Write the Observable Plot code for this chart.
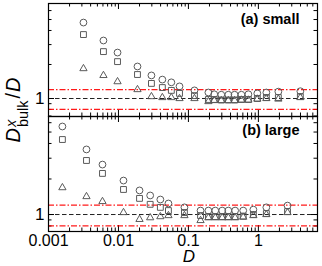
<!DOCTYPE html>
<html><head><meta charset="utf-8">
<script src="https://cdn.jsdelivr.net/npm/d3@7"></script>
<script src="https://cdn.jsdelivr.net/npm/@observablehq/plot@0.6"></script>
<style>
body{margin:0;background:#fff;}
#wrap{position:relative;width:322px;height:266px;font-family:"Liberation Sans",Arial,sans-serif;overflow:hidden;background:#fff;}
#wrap svg{display:block;overflow:visible;}
#ylab{position:absolute;left:-47px;top:97px;width:120px;height:26px;line-height:26px;text-align:center;transform:rotate(-90deg);font-size:20px;white-space:nowrap;color:#000;}
#ylab .stack{display:inline-block;vertical-align:-8px;line-height:12px;font-size:14.5px;text-align:left;margin-left:1px;margin-right:1px;}
#ylab .sl{margin:0 1px;}
</style></head><body><div id="wrap"><div id="ylab"><i>D</i><span class="stack"><i>x</i><br>bulk</span><span class="sl">/</span><i>D</i></div></div>
<script>
// ----- data -----
const panelLabels = ["(a) small", "(b) large"];
const xTickLabels = [0.001, 0.01, 0.1, 1];
const yTickLabels = [1];
const refLevel = [1];
const bandLevels = [1.2, 0.8];

const xA = [0.00316, 0.0061, 0.0097, 0.0187, 0.0296, 0.0424, 0.057, 0.0746, 0.122, 0.193, 0.234, 0.295, 0.372, 0.457, 0.572, 0.72, 0.966, 1.30, 1.93, 3.98];
const circA = [4.7, 3.26, 2.55, 1.92, 1.6, 1.47, 1.39, 1.28, 1.18, 1.13, 1.09, 1.08, 1.08, 1.08, 1.08, 1.09, 1.11, 1.13, 1.15, 1.16];
const sqA = [3.68, 2.6, 2.12, 1.63, 1.36, 1.25, 1.18, 1.11, 1.06, 0.98, 0.98, 0.97, 0.97, 0.97, 0.98, 0.98, 1.0, 1.02, 1.02, 1.04];
const triA = [1.84, 1.6, 1.41, 1.2, 1.04, 1.02, 1.02, 1.0, 1.0, 0.94, 0.96, 0.96, 0.96, 0.96, 0.97, 0.97, 0.99, 1.0, 0.99, 1.02];

const xB = [0.00158, 0.00349, 0.00591, 0.0118, 0.02, 0.0284, 0.0397, 0.0518, 0.0877, 0.149, 0.193, 0.242, 0.304, 0.372, 0.465, 0.607, 0.848, 1.30, 2.61];
const circB = [5.57, 3.56, 2.65, 1.94, 1.6, 1.45, 1.34, 1.24, 1.15, 1.08, 1.08, 1.08, 1.08, 1.08, 1.08, 1.08, 1.1, 1.15, 1.19];
const sqB = [4.32, 2.87, 2.23, 1.63, 1.37, 1.22, 1.15, 1.08, 1.04, 0.98, 0.96, 0.96, 0.96, 0.96, 0.96, 0.97, 1.0, 1.02, 1.06];
const triB = [1.69, 1.42, 1.29, 1.04, 0.91, 0.94, 0.96, 0.98, 0.98, 0.89, 0.94, 0.94, 0.94, 0.94, 0.94, 0.95, 0.98, 1.0, 1.04];

const xDomain = [0.001, 7];
const yDomainA = [0.693, 6.93];
const yDomainB = [0.718, 6.77];

// minor tick positions
const decades = [0.001, 0.01, 0.1, 1];
const xMinor = decades.flatMap(d => [2,3,4,5,6,7,8,9].map(k => +(k*d).toPrecision(3))).filter(v => v <= xDomain[1]);
const yMinorAll = [0.7, 0.8, 0.9, 2, 3, 4, 5, 6];

const W = 322, ML = 48, MR = 5;
const ptColor = "#5a5a5a";
const red = "#ff0000";

function panel(xs, circ, sq, tri, yDomain, label, opts) {
  const {height, mt, mb, bottomAxis, labelDy} = opts;
  const fh = height - mt - mb, fw = W - ML - MR;
  const yMinor = yMinorAll.filter(v => v > yDomain[0] && v < yDomain[1]);
  const rows = (ys) => xs.map((x, i) => ({x, y: ys[i]}));
  const marks = [
    Plot.ruleY(refLevel, {y: d => d, stroke: "#222", strokeWidth: 1, strokeDasharray: "4.5,2.5"}),
    Plot.tickX(xTickLabels, {x: d => d, insetTop: fh - 6, stroke: "black", strokeWidth: 1}),
    Plot.tickX(xTickLabels, {x: d => d, insetBottom: fh - 6, stroke: "black", strokeWidth: 1}),
    Plot.tickX(xMinor, {x: d => d, insetTop: fh - 3.5, stroke: "black", strokeWidth: 1}),
    Plot.tickX(xMinor, {x: d => d, insetBottom: fh - 3.5, stroke: "black", strokeWidth: 1}),
    Plot.tickY(yTickLabels, {y: d => d, insetRight: fw - 6, stroke: "black", strokeWidth: 1}),
    Plot.tickY(yTickLabels, {y: d => d, insetLeft: fw - 6, stroke: "black", strokeWidth: 1}),
    Plot.tickY(yMinor, {y: d => d, insetRight: fw - 3.5, stroke: "black", strokeWidth: 1}),
    Plot.tickY(yMinor, {y: d => d, insetLeft: fw - 3.5, stroke: "black", strokeWidth: 1}),
    Plot.ruleY(bandLevels, {y: d => d, stroke: red, strokeOpacity: 0.9, strokeWidth: 1.2, strokeDasharray: "6,2,1.5,2"}),
    Plot.dot(rows(tri), {x: "x", y: "y", symbol: "triangle", r: 2.7, stroke: ptColor, fill: "none", strokeWidth: 1}),
    Plot.dot(rows(sq), {x: "x", y: "y", symbol: "square", r: 3.3, stroke: ptColor, fill: "none", strokeWidth: 1}),
    Plot.dot(rows(circ), {x: "x", y: "y", symbol: "circle", r: 3.4, stroke: ptColor, fill: "none", strokeWidth: 1}),
    Plot.frame({stroke: "black", strokeWidth: 1.2}),
    Plot.axisY(yTickLabels, {anchor: "left", tickSize: 0, tickPadding: 4, tickFormat: d => String(d), fontSize: 17, fill: "black", label: null}),
    Plot.text([label], {text: d => d, frameAnchor: "top-right", textAnchor: "end", lineAnchor: "middle", dx: -18, dy: labelDy, fontWeight: "bold", fontSize: 14.5, fill: "black"})
  ];
  if (bottomAxis) {
    marks.push(Plot.axisX(xTickLabels, {anchor: "bottom", tickSize: 0, tickPadding: 3, tickFormat: d => String(d), fontSize: 16, fill: "black", label: null}));
    marks.push(Plot.text(["D"], {text: d => d, frameAnchor: "bottom", dx: 6, dy: 25.5, lineAnchor: "middle", fontStyle: "italic", fontSize: 17, fill: "black"}));
  }
  return Plot.plot({
    width: W, height,
    marginLeft: ML, marginRight: MR, marginTop: mt, marginBottom: mb,
    x: {type: "log", domain: xDomain, axis: null},
    y: {type: "log", domain: yDomain, axis: null},
    style: {fontFamily: "'Liberation Sans', Arial, sans-serif", fontSize: "16px", color: "black", background: "transparent", overflow: "visible"},
    marks
  });
}

const wrapEl = document.getElementById("wrap");
const topPanel = panel(xA, circA, sqA, triA, yDomainA, panelLabels[0], {height: 116, mt: 3, mb: 0, bottomAxis: false, labelDy: 16});
const botPanel = panel(xB, circB, sqB, triB, yDomainB, panelLabels[1], {height: 150, mt: 0, mb: 35, bottomAxis: true, labelDy: 14});
wrapEl.insertBefore(topPanel, wrapEl.firstChild);
wrapEl.insertBefore(botPanel, document.getElementById("ylab"));
</script>
</body></html>
